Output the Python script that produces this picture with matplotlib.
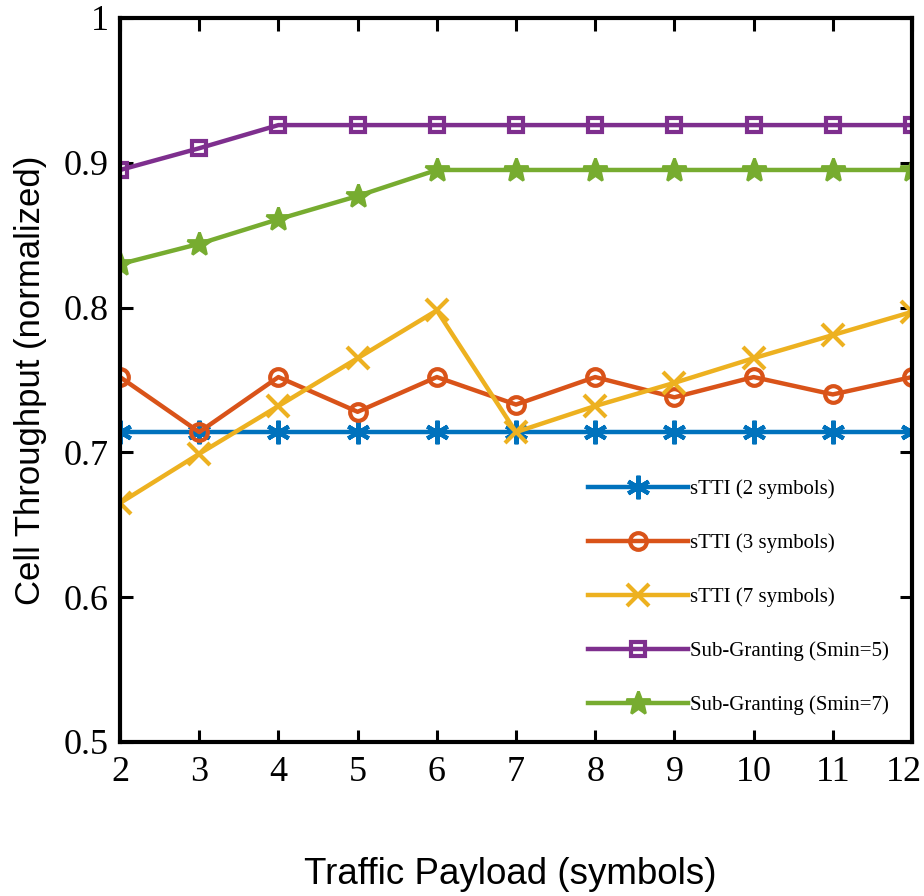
import matplotlib.pyplot as plt
from matplotlib.transforms import ScaledTranslation

# Traffic payload (symbols) on the x axis
payload = [2, 3, 4, 5, 6, 7, 8, 9, 10, 11, 12]

# Normalized cell throughput
stti_2 = [0.714, 0.714, 0.714, 0.714, 0.714, 0.714, 0.714, 0.714, 0.714, 0.714, 0.714]
stti_3 = [0.752, 0.714, 0.752, 0.728, 0.752, 0.733, 0.752, 0.738, 0.752, 0.740, 0.752]
stti_7 = [0.665, 0.699, 0.732, 0.765, 0.798, 0.714, 0.732, 0.748, 0.765, 0.781, 0.797]
sub_5 = [0.895, 0.910, 0.926, 0.926, 0.926, 0.926, 0.926, 0.926, 0.926, 0.926, 0.926]
sub_7 = [0.830, 0.844, 0.861, 0.877, 0.895, 0.895, 0.895, 0.895, 0.895, 0.895, 0.895]

labels = ['sTTI (2 symbols)', 'sTTI (3 symbols)', 'sTTI (7 symbols)',
          'Sub-Granting (Smin=5)', 'Sub-Granting (Smin=7)']
y_ticks = [0.5, 0.6, 0.7, 0.8, 0.9, 1.0]
y_tick_labels = ['0.5', '0.6', '0.7', '0.8', '0.9', '1']

fig = plt.figure(figsize=(9.24, 8.96), dpi=100)
ax = fig.add_axes([0.1299, 0.1719, 0.8571, 0.8081])

lw = 3.2
ax.plot(payload, stti_2, color='#0072BD', lw=lw, marker=(6, 2, 0), ms=17, mew=3, label=labels[0])
ax.plot(payload, stti_3, color='#D95319', lw=lw, marker='o', ms=12, mew=3, mfc='none', label=labels[1])
ax.plot(payload, stti_7, color='#EDB120', lw=lw, marker='x', ms=16, mew=3, label=labels[2])
ax.plot(payload, sub_5, color='#7E2F8E', lw=lw, marker='s', ms=10, mew=3, mfc='none', label=labels[3])
ax.plot(payload, sub_7, color='#77AC30', lw=lw, marker='*', ms=18, mew=2, label=labels[4])

ax.set_xlim(2, 12)
ax.set_ylim(0.5, 1.0)
ax.set_xticks(payload)
ax.set_yticks(y_ticks)
ax.set_yticklabels(y_tick_labels)

for s in ax.spines.values():
    s.set_linewidth(3)
ax.tick_params(direction='in', length=9, width=2.2, top=True, right=True, labelsize=26)
ax.tick_params(axis='x', pad=10)
ax.tick_params(axis='y', pad=8)
for t in ax.get_xticklabels() + ax.get_yticklabels():
    t.set_family('Liberation Serif')
# keep the last x label inside the figure edge
last = ax.get_xticklabels()[-1]
last.set_transform(last.get_transform() + ScaledTranslation(-6 / 72, 0, fig.dpi_scale_trans))

ax.set_ylabel('Cell Throughput (normalized)', family='Liberation Sans', fontsize=25, labelpad=12)
fig.text(0.552, 0.004, 'Traffic Payload (symbols)', family='Liberation Sans',
         fontsize=26.5, ha='center', va='bottom')

leg = ax.legend(loc='upper left', bbox_to_anchor=(0.591, 0.363), frameon=False,
                prop={'family': 'Liberation Serif', 'size': 15},
                handlelength=4.8, labelspacing=1.65, handletextpad=0.1,
                borderaxespad=0, borderpad=0)

fig.savefig('out.png', dpi=100)
